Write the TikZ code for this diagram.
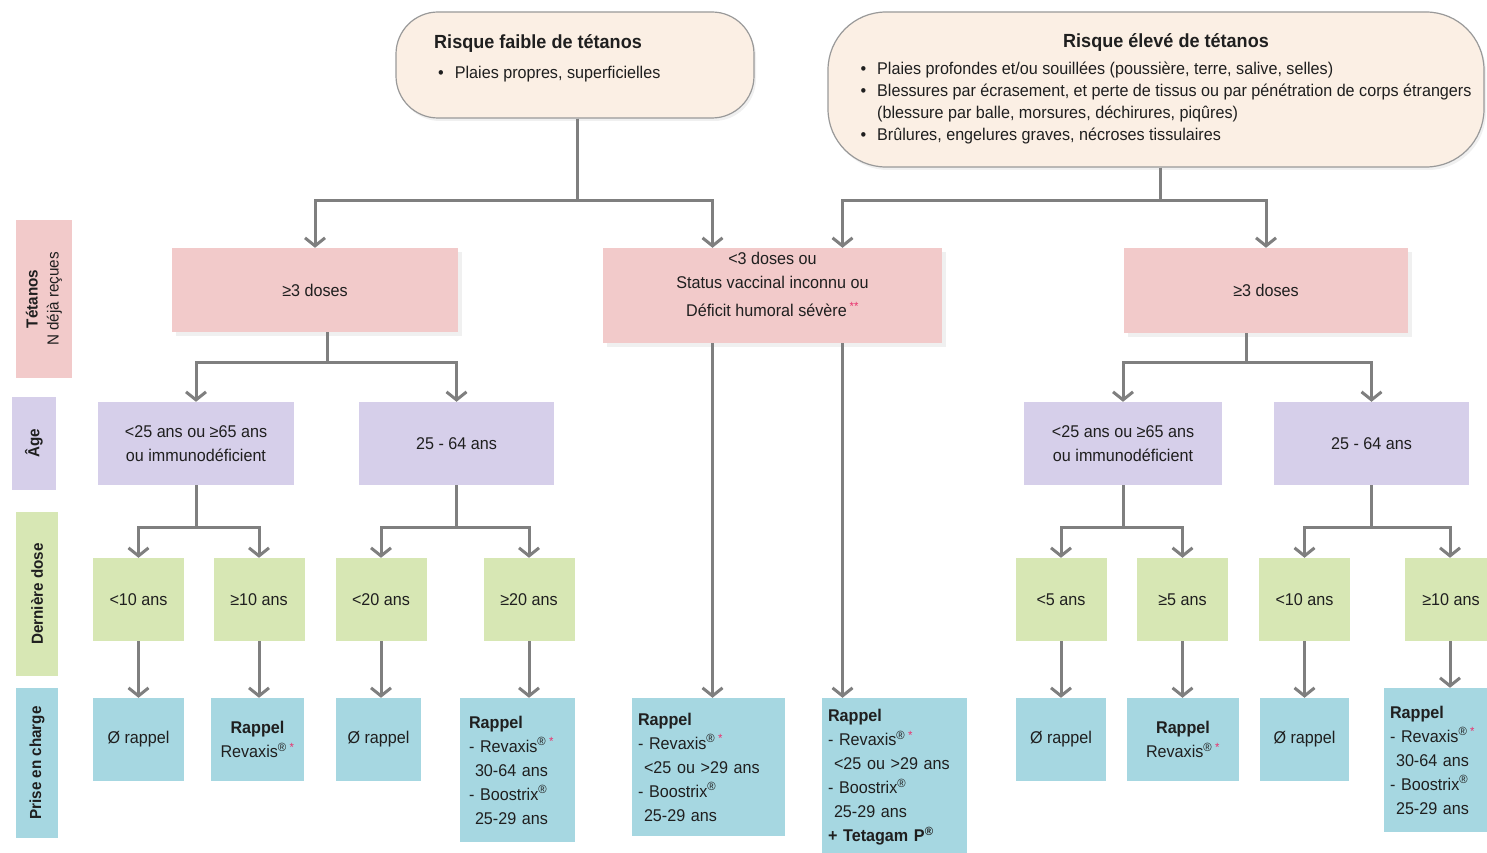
\documentclass[tikz,border=0pt]{standalone}
\usepackage{fontspec}
\setmainfont{Liberation Sans}[FakeStretch=0.95]
\usetikzlibrary{arrows.meta, shadows}
\definecolor{tetPink}{HTML}{F2CACA}
\definecolor{agePurple}{HTML}{D6CFEA}
\definecolor{doseGreen}{HTML}{D7E7B4}
\definecolor{careCyan}{HTML}{A6D7E1}
\definecolor{riskBeige}{HTML}{FBEFE4}
\definecolor{linkGray}{HTML}{7F7F7F}
\definecolor{starRed}{HTML}{E8336E}
\newcommand{\rev}{Revaxis\textsuperscript{®}\,\textcolor{starRed}{\textsuperscript{*}}}
\newcommand{\boo}{Boostrix\textsuperscript{®}}

\begin{document}
\begin{tikzpicture}[x=1pt, y=1pt,
    every node/.style={font=\fontsize{17}{24}\selectfont, text=black!88},
    cell/.style={rectangle, inner sep=0pt, align=center},
    riskbox/.style={cell, fill=riskBeige, draw=black!40, line width=1.2pt,
      drop shadow={shadow xshift=2pt, shadow yshift=-3pt, opacity=0.12}},
    tetbox/.style={cell, fill=tetPink, drop shadow={shadow xshift=4pt, shadow yshift=-4pt, opacity=0.12}},
    agebox/.style={cell, fill=agePurple, minimum height=83},
    dosebox/.style={cell, fill=doseGreen, minimum width=91, minimum height=83},
    carebox/.style={cell, fill=careCyan, minimum height=83},
    sidebox/.style={cell, rotate=90, font=\fontsize{16}{21}\selectfont},
    link/.style={draw=linkGray, line width=3pt, -{Straight Barb[length=8pt, width=20pt]}}]
  \useasboundingbox (0,0) rectangle (1487,-853);

  % risk levels
  \node[riskbox, rounded corners=42, minimum width=358, minimum height=106] (lowrisk) at (575,-65) {};
  \node[anchor=north west, inner sep=0pt, font=\fontsize{17}{22}\selectfont] (lowtxt) at (434,-33) {%
    \begin{tabular}{@{}l@{\hspace{11pt}}l@{}}
      \multicolumn{2}{@{}l}{\fontsize{19}{22}\selectfont\textbf{Risque faible de tétanos}}\\[8pt]
      \hspace{4pt}\textbullet & Plaies propres, superficielles
    \end{tabular}};
  \node[riskbox, rounded corners=58, minimum width=656, minimum height=155] (highrisk) at (1156,-89.5) {};
  \node[anchor=north, inner sep=0pt, font=\fontsize{17}{22}\selectfont] (hightxt) at (1166,-32) {%
    \begin{tabular}{@{}l@{\hspace{11pt}}l@{}}
      \multicolumn{2}{c}{\fontsize{19}{22}\selectfont\textbf{Risque élevé de tétanos}}\\[5pt]
      \textbullet & Plaies profondes et/ou souillées (poussière, terre, salive, selles)\\
      \textbullet & Blessures par écrasement, et perte de tissus ou par pénétration de corps étrangers\\
      & (blessure par balle, morsures, déchirures, piqûres)\\
      \textbullet & Brûlures, engelures graves, nécroses tissulaires
    \end{tabular}};

  % row captions
  \node[sidebox, fill=tetPink, minimum width=158, minimum height=56] (tetlab) at (44,-299) {\textbf{Tétanos}\\N déjà reçues};
  \node[sidebox, fill=agePurple, minimum width=93, minimum height=44] (agelab) at (34,-443.5) {\textbf{Âge}};
  \node[sidebox, fill=doseGreen, minimum width=164, minimum height=42] (doselab) at (37,-594) {\textbf{Dernière dose}};
  \node[sidebox, fill=careCyan, minimum width=150, minimum height=42] (carelab) at (37,-763) {\textbf{Prise en charge}};

  % doses received
  \node[tetbox, minimum width=286, minimum height=84] (tetL) at (315,-290) {≥3 doses};
  \node[tetbox, minimum width=339, minimum height=95] (tetC) at (772.5,-295.5)
    {<3 doses ou\\Status vaccinal inconnu ou\\[4pt]Déficit humoral sévère\,\textcolor{starRed}{\textsuperscript{**}}\rule[-22pt]{0pt}{0pt}};
  \node[tetbox, minimum width=284, minimum height=85] (tetR) at (1266,-290.5) {≥3 doses};
  \coordinate (tetCl) at ([xshift=-60pt]tetC.north);
  \coordinate (tetCr) at ([xshift=70pt]tetC.north);

  % age
  \node[agebox, minimum width=196] (a1) at (196,-443.5) {<25 ans ou ≥65 ans\\ou immunodéficient};
  \node[agebox, minimum width=195] (a2) at (456.5,-443.5) {25 - 64 ans};
  \node[agebox, minimum width=198] (a3) at (1123,-443.5) {<25 ans ou ≥65 ans\\ou immunodéficient};
  \node[agebox, minimum width=195] (a4) at (1371.5,-443.5) {25 - 64 ans};

  % last dose
  \node[dosebox] (d1) at (138.5,-599.5) {<10 ans};
  \node[dosebox] (d2) at (259,-599.5) {≥10 ans};
  \node[dosebox] (d3) at (381,-599.5) {<20 ans};
  \node[dosebox] (d4) at (529,-599.5) {≥20 ans};
  \node[dosebox] (d5) at (1061,-599.5) {<5 ans};
  \node[dosebox] (d6) at (1182.5,-599.5) {≥5 ans};
  \node[dosebox] (d7) at (1304.5,-599.5) {<10 ans};
  \node[dosebox, minimum width=82] (d8) at (1446,-599.5) {\hspace{10pt}≥10 ans};

  % what to do
  \node[carebox, minimum width=91] (c1) at (138.5,-739.5) {Ø rappel};
  \node[carebox, minimum width=93] (c2) at (257.5,-739.5) {\textbf{Rappel}\\\rev};
  \node[carebox, minimum width=85] (c3) at (378.5,-739.5) {Ø rappel};
  \node[carebox, minimum width=115, minimum height=144, align=left, text width=97] (c4) at (517.5,-770)
    {\textbf{Rappel}\\- \rev\\\hspace{6pt}30-64 ans\\- \boo\\\hspace{6pt}25-29 ans};
  \node[carebox, minimum width=153, minimum height=138, align=left, text width=141] (c5) at (708.5,-767)
    {\textbf{Rappel}\\- \rev\\\hspace{6pt}<25 ou >29 ans\\- \boo\\\hspace{6pt}25-29 ans};
  \node[carebox, minimum width=145, minimum height=158, align=left, text width=133] (c6) at (894.5,-777)
    {\textbf{Rappel}\\- \rev\\\hspace{6pt}<25 ou >29 ans\\- \boo\\\hspace{6pt}25-29 ans\\\textbf{+ Tetagam P\textsuperscript{®}}};
  \node[carebox, minimum width=90] (c7) at (1061,-739.5) {Ø rappel};
  \node[carebox, minimum width=112] (c8) at (1183,-739.5) {\textbf{Rappel}\\\rev};
  \node[carebox, minimum width=89] (c9) at (1304.5,-739.5) {Ø rappel};
  \node[carebox, minimum width=103, minimum height=144, align=left, text width=91] (c10) at (1435.5,-760)
    {\textbf{Rappel}\\- \rev\\\hspace{6pt}30-64 ans\\- \boo\\\hspace{6pt}25-29 ans};

  % branching levels
  \coordinate (bar0) at (0,-200);
  \coordinate (bar1) at (0,-362);
  \coordinate (bar2) at (0,-527);

  \draw[link] ([xshift=2pt]lowrisk.south) -- ([xshift=2pt]lowrisk.south |- bar0) -| (tetL.north);
  \draw[link] ([xshift=2pt]lowrisk.south) -- ([xshift=2pt]lowrisk.south |- bar0) -| (tetCl);
  \draw[link] ([xshift=4pt]highrisk.south) -- ([xshift=4pt]highrisk.south |- bar0) -| (tetCr);
  \draw[link] ([xshift=4pt]highrisk.south) -- ([xshift=4pt]highrisk.south |- bar0) -| (tetR.north);

  \foreach \c in {a1,a2}
    \draw[link] ([xshift=12pt]tetL.south) -- ([xshift=12pt]tetL.south |- bar1) -| (\c.north);
  \foreach \c in {a3,a4}
    \draw[link] ([xshift=-20pt]tetR.south) -- ([xshift=-20pt]tetR.south |- bar1) -| (\c.north);

  \foreach \p/\c in {a1/d1, a1/d2, a2/d3, a2/d4, a3/d5, a3/d6, a4/d7}
    \draw[link] (\p.south) -- (\p.south |- bar2) -| (\c.north);
  \draw[link] (a4.south) -- (a4.south |- bar2) -| ([xshift=4pt]d8.north);

  \draw[link] (tetCl |- tetC.south) -- (tetCl |- c5.north);
  \draw[link] (tetCr |- tetC.south) -- (tetCr |- c6.north);

  \foreach \d/\c in {d1/c1, d2/c2, d3/c3, d4/c4, d5/c7, d6/c8, d7/c9}
    \draw[link] (\d.south) -- (\d.south |- \c.north);
  \draw[link] ([xshift=4pt]d8.south) -- ([xshift=4pt]d8.south |- c10.north);
\end{tikzpicture}
\end{document}
